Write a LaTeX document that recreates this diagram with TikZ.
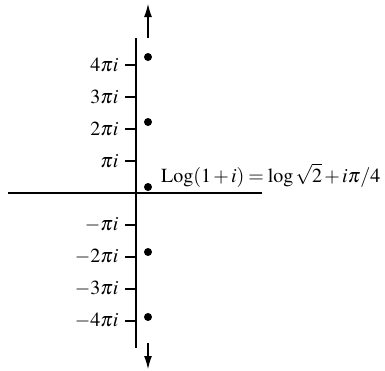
\documentclass[tikz,border=0pt]{standalone}
\usepackage{mathptmx}
\usetikzlibrary{arrows.meta, positioning}

\begin{document}
\begin{tikzpicture}[x=1pt, y=-1pt,
    axe/.style={line width=1.1pt},
    fleche/.style={-{Latex[length=13pt, width=8pt]}, line width=1.1pt},
    graduation/.style={line width=1.1pt},
    etiquette/.style={anchor=east, inner sep=0pt, font=\fontsize{20}{22}\selectfont},
    pastille/.style={circle, fill=black, inner sep=0pt, minimum size=8pt}
  ]
  \useasboundingbox (0,0) rectangle (385,370);

  % axes
  \coordinate (haut) at (136,38);
  \coordinate (bas) at (136,348);
  \coordinate (gauche) at (8,193);
  \coordinate (droite) at (262,193);
  \draw[axe] (haut) -- (bas);
  \draw[axe] (gauche) -- (droite);

  % fleches
  \coordinate (h0) at (148,38);
  \coordinate (h1) at (148,4);
  \coordinate (b0) at (148,343);
  \coordinate (b1) at (148,369);
  \draw[fleche] (h0) -- (h1);
  \draw[fleche] (b0) -- (b1);

  % graduations
  \coordinate (c4) at (136,65);
  \coordinate (c3) at (136,97);
  \coordinate (c2) at (136,129);
  \coordinate (c1) at (136,161);
  \coordinate (cm1) at (136,225);
  \coordinate (cm2) at (136,257);
  \coordinate (cm3) at (136,289);
  \coordinate (cm4) at (136,321);
  \draw[graduation] (c4) -- ++(-11,0) node[etiquette, xshift=-6pt] (g4) {$4\pi i$};
  \draw[graduation] (c3) -- ++(-11,0) node[etiquette, xshift=-6pt] (g3) {$3\pi i$};
  \draw[graduation] (c2) -- ++(-11,0) node[etiquette, xshift=-6pt] (g2) {$2\pi i$};
  \draw[graduation] (c1) -- ++(-11,0) node[etiquette, xshift=-6pt] (g1) {$\pi i$};
  \draw[graduation] (cm1) -- ++(-11,0) node[etiquette, xshift=-6pt] (gm1) {$-\pi i$};
  \draw[graduation] (cm2) -- ++(-11,0) node[etiquette, xshift=-6pt] (gm2) {$-2\pi i$};
  \draw[graduation] (cm3) -- ++(-11,0) node[etiquette, xshift=-6pt] (gm3) {$-3\pi i$};
  \draw[graduation] (cm4) -- ++(-11,0) node[etiquette, xshift=-6pt] (gm4) {$-4\pi i$};

  % valeurs du logarithme
  \node[pastille] (p2) at (148,57) {};
  \node[pastille] (p1) at (148,122) {};
  \node[pastille] (p0) at (148,187) {};
  \node[pastille] (pm1) at (148,252) {};
  \node[pastille] (pm2) at (148,317) {};

  \node[anchor=base west, inner sep=0pt, font=\fontsize{20}{22}\selectfont]
    (valeur) at (161,182)
    {\medmuskip=2mu \thickmuskip=3.5mu $\mathrm{Log}(1+i)=\log\sqrt{2}+i\pi/4$};
\end{tikzpicture}
\end{document}
